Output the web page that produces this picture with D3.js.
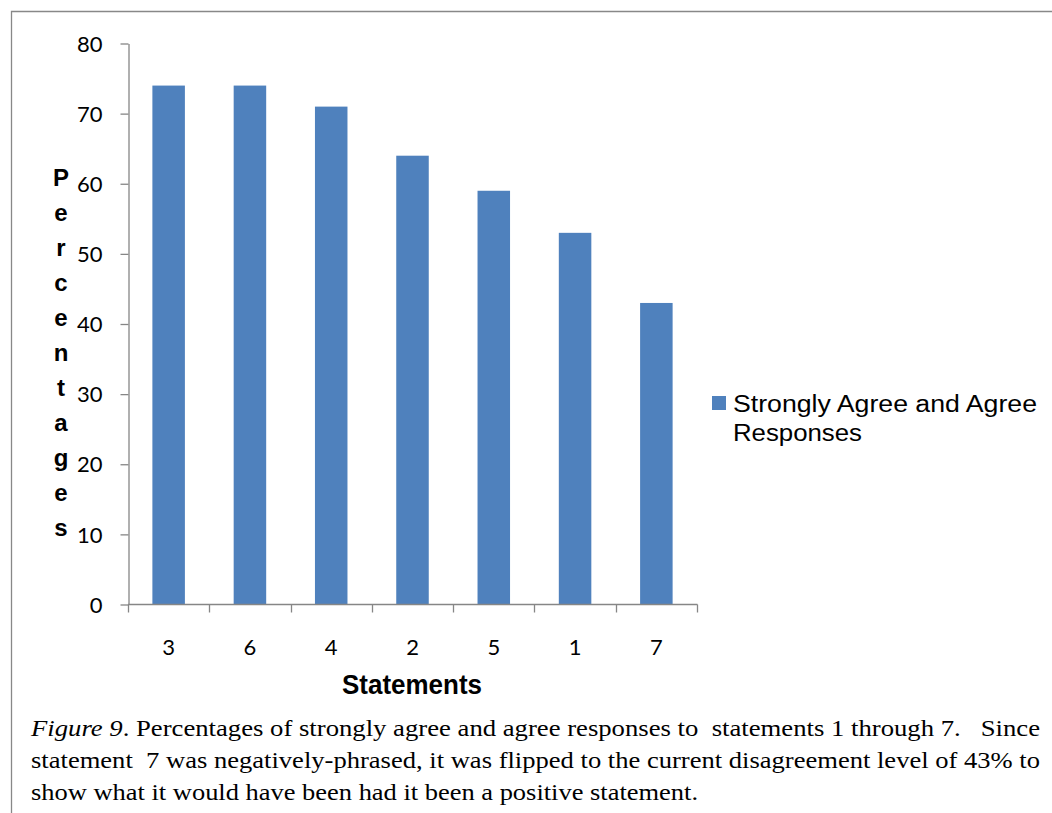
<!DOCTYPE html>
<html><head><meta charset="utf-8">
<script src="https://cdn.jsdelivr.net/npm/d3@7"></script>
<style>body{margin:0;background:#fff}svg{display:block}text{white-space:pre}</style>
</head><body>
<script>
const categories = ["3","6","4","2","5","1","7"];
const values = [74,74,71,64,59,53,43];
const yTicks = [0,10,20,30,40,50,60,70,80];
const seriesName = ["Strongly Agree and Agree", "Responses"];
const yLabel = "Percentages";
const xLabel = "Statements";
const caption = [
  ["Figure 9", ". Percentages of strongly agree and agree responses to  statements 1 through 7.   Since"],
  ["", "statement  7 was negatively-phrased, it was flipped to the current disagreement level of 43% to"],
  ["", "show what it would have been had it been a positive statement."]
];

const W = 1052, H = 813;
const svg = d3.select("body").append("svg").attr("width", W).attr("height", H);
svg.append("rect").attr("width", W).attr("height", H).attr("fill", "#fff");
// frame
svg.append("path").attr("d", `M11.5,${H} V11.5 H${W}`).attr("fill","none").attr("stroke","#888").attr("stroke-width",1.3);

const x0 = 128, x1 = 697, yTop = 43.5, yBot = 604.5;
const x = d3.scaleBand().domain(categories).range([x0, x1]).paddingInner(0.6).paddingOuter(0.3);
const xb = d3.scaleBand().domain(categories).range([x0, x1]);
const y = d3.scaleLinear().domain([0,80]).range([yBot, yTop]);

const font = "Lato, 'Open Sans', sans-serif";
const arial = "'Liberation Sans', Arial, sans-serif";

svg.append("g").selectAll("rect").data(values).join("rect")
  .attr("x", (d,i)=>x(categories[i])).attr("width", x.bandwidth())
  .attr("y", d=>y(d)).attr("height", d=>y(0)-y(d)).attr("fill","#4F81BD");

// y axis
const ya = svg.append("g").attr("transform", `translate(${x0+0.5},0)`)
  .call(d3.axisLeft(y).tickValues(yTicks).tickSize(8).tickSizeOuter(0).tickPadding(18));
ya.select(".domain").attr("stroke","#868686").attr("stroke-width",1.3);
ya.selectAll(".tick line").attr("stroke","#868686").attr("stroke-width",1.3);
ya.selectAll(".tick text").attr("font-family", font).attr("font-size", 22).attr("fill","#000").attr("dy","0.35em");

// x axis
const xa = svg.append("g").attr("transform", `translate(0,${yBot})`)
  .call(d3.axisBottom(xb).tickSize(0).tickPadding(35));
xa.select(".domain").remove();
xa.append("line").attr("x1", x0).attr("x2", x1+0.5).attr("stroke","#868686").attr("stroke-width",1.3);
xa.selectAll(".tick text").attr("font-family", font).attr("font-size", 22).attr("fill","#000");
const bounds = categories.map(c=>xb(c)).concat([x1]);
xa.selectAll(".bt").data(bounds).join("line").attr("class","bt")
  .attr("x1", d=>Math.round(d)+0.5).attr("x2", d=>Math.round(d)+0.5).attr("y1",0).attr("y2",8)
  .attr("stroke","#868686").attr("stroke-width",1.3);

// y label stacked letters
svg.append("g").selectAll("text").data(yLabel.split("")).join("text")
  .attr("x", 61).attr("y", (d,i)=>186 + i*35)
  .attr("text-anchor","middle").attr("font-family",arial)
  .attr("font-weight","bold").attr("font-size",24).text(d=>d);

svg.append("text").attr("x", 342).attr("y", 694)
  .attr("font-family",arial).attr("font-weight","bold")
  .attr("font-size",27).attr("textLength",140).attr("lengthAdjust","spacingAndGlyphs").text(xLabel);

// legend
const legLens = [304, 129];
svg.append("rect").attr("x",712).attr("y",396).attr("width",14).attr("height",14).attr("fill","#4F81BD");
svg.append("g").selectAll("text").data(seriesName).join("text")
  .attr("x",733).attr("y",(d,i)=>412 + i*29)
  .attr("font-family",arial).attr("font-size",23)
  .attr("textLength",(d,i)=>legLens[i]).attr("lengthAdjust","spacingAndGlyphs").text(d=>d);

// caption
const cap = svg.append("g");
const capLens = [1009, 1009, 667];
caption.forEach((ln,i)=>{
  const t = cap.append("text").attr("x",31).attr("y",736 + i*32)
    .attr("font-family","'Liberation Serif', 'Times New Roman', serif").attr("font-size",23.5);
  if (ln[0]) t.append("tspan").attr("font-style","italic").text(ln[0]);
  t.append("tspan").text(ln[1]);
  t.attr("textLength", capLens[i]).attr("lengthAdjust","spacingAndGlyphs");
});
</script>
</body></html>
